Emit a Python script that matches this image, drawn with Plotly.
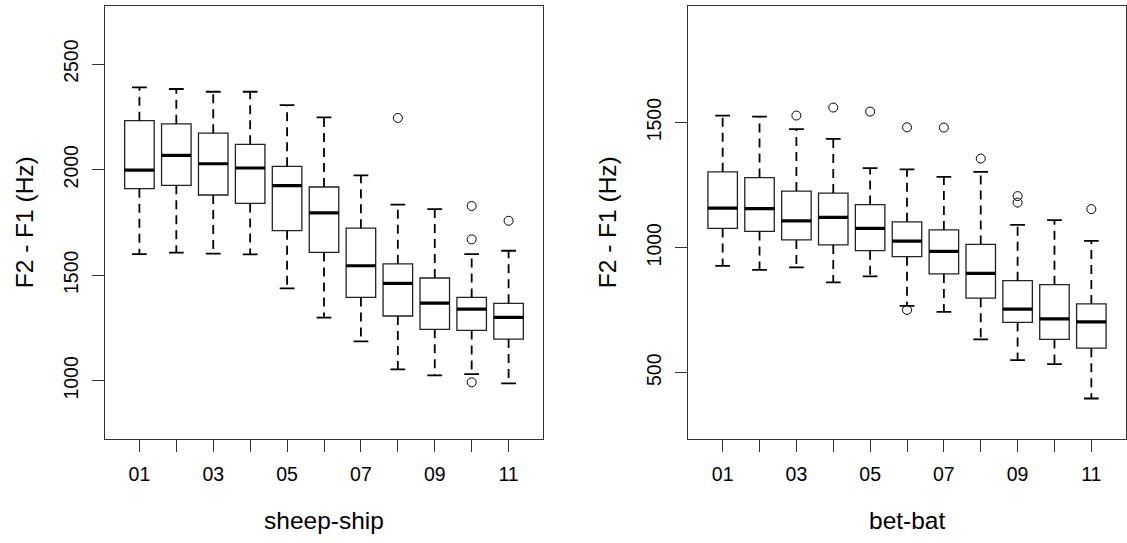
import plotly.graph_objects as go

# ---- data ----
positions = [1, 2, 3, 4, 5, 6, 7, 8, 9, 10, 11]
tick_labels = ["01", "", "03", "", "05", "", "07", "", "09", "", "11"]

# sheep-ship
ss_lower = [1600, 1607, 1602, 1599, 1438, 1299, 1187, 1054, 1026, 1032, 988]
ss_q1 = [1910, 1926, 1880, 1840, 1711, 1608, 1395, 1307, 1244, 1239, 1198]
ss_median = [1998, 2068, 2028, 2008, 1924, 1795, 1545, 1462, 1368, 1340, 1301]
ss_q3 = [2232, 2217, 2173, 2120, 2016, 1918, 1723, 1554, 1487, 1395, 1367]
ss_upper = [2390, 2382, 2369, 2369, 2306, 2248, 1973, 1834, 1813, 1600, 1616]
ss_out_x = [8, 10, 10, 10, 11]
ss_out_y = [2245, 1828, 1670, 993, 1758]

# bet-bat
bb_lower = [927, 911, 921, 861, 885, 767, 743, 633, 550, 534, 397]
bb_q1 = [1077, 1065, 1031, 1011, 988, 964, 895, 798, 701, 633, 598]
bb_median = [1158, 1156, 1107, 1121, 1077, 1026, 985, 897, 754, 715, 703]
bb_q3 = [1303, 1280, 1226, 1218, 1172, 1103, 1071, 1013, 868, 852, 775]
bb_upper = [1528, 1524, 1474, 1435, 1318, 1313, 1283, 1303, 1091, 1110, 1027]
bb_out_x = [3, 4, 5, 6, 6, 7, 8, 9, 9, 11]
bb_out_y = [1528, 1560, 1544, 1481, 751, 1480, 1356, 1206, 1180, 1154]

ss_yticks = [1000, 1500, 2000, 2500]
bb_yticks = [500, 1000, 1500]

BOX_W = 0.8
CAP_HALF = 0.2
FONT = "Liberation Sans, Arial, Helvetica, sans-serif"

fig = go.Figure()


def add_panel(xa, ya, lower, q1, med, q3, upper, ox, oy):
    # whiskers (dashed)
    wx, wy = [], []
    for p, lo, a, b, up in zip(positions, lower, q1, q3, upper):
        wx += [p, p, None, p, p, None]
        wy += [b, up, None, a, lo, None]
    fig.add_trace(go.Scatter(x=wx, y=wy, mode="lines", xaxis=xa, yaxis=ya,
                             line=dict(color="black", width=1.8, dash="9px,6px"),
                             hoverinfo="skip", showlegend=False))
    # staples
    cx, cy = [], []
    for p, lo, up in zip(positions, lower, upper):
        cx += [p - CAP_HALF, p + CAP_HALF, None, p - CAP_HALF, p + CAP_HALF, None]
        cy += [up, up, None, lo, lo, None]
    fig.add_trace(go.Scatter(x=cx, y=cy, mode="lines", xaxis=xa, yaxis=ya,
                             line=dict(color="black", width=1.8),
                             hoverinfo="skip", showlegend=False))
    # box bodies
    fig.add_trace(go.Box(x=positions, q1=q1, median=med, q3=q3,
                         lowerfence=q1, upperfence=q3, xaxis=xa, yaxis=ya,
                         width=BOX_W, whiskerwidth=0,
                         fillcolor="white", line=dict(color="#222222", width=1.3),
                         boxpoints=False, hoverinfo="skip", showlegend=False))
    # thick medians
    mx, my = [], []
    for p, m in zip(positions, med):
        mx += [p - BOX_W / 2, p + BOX_W / 2, None]
        my += [m, m, None]
    fig.add_trace(go.Scatter(x=mx, y=my, mode="lines", xaxis=xa, yaxis=ya,
                             line=dict(color="black", width=3.2),
                             hoverinfo="skip", showlegend=False))
    # outliers
    fig.add_trace(go.Scatter(x=ox, y=oy, mode="markers", xaxis=xa, yaxis=ya,
                             marker=dict(symbol="circle-open", size=9,
                                         color="black", line=dict(width=1)),
                             hoverinfo="skip", showlegend=False))


add_panel("x", "y", ss_lower, ss_q1, ss_median, ss_q3, ss_upper, ss_out_x, ss_out_y)
add_panel("x2", "y2", bb_lower, bb_q1, bb_median, bb_q3, bb_upper, bb_out_x, bb_out_y)

W, H = 1127, 543
ydom = [1 - 438.5 / H, 1 - 6 / H]
xdom1 = [104.7 / W, 543.3 / W]
xdom2 = [688.0 / W, 1126.0 / W]

axis_common = dict(showgrid=False, zeroline=False, showline=True, mirror=True,
                   linecolor="#333333", linewidth=1, ticks="outside",
                   ticklen=12, tickwidth=1, tickcolor="#333333",
                   tickfont=dict(family=FONT, size=19.5, color="black"))

xcommon = dict(axis_common, range=[0.06, 11.94], tickmode="array",
               tickvals=positions, ticktext=tick_labels, ticklabelstandoff=6)

fig.update_layout(
    width=W, height=H, margin=dict(l=0, r=0, t=0, b=0),
    paper_bgcolor="white", plot_bgcolor="white", showlegend=False,
    xaxis=dict(xcommon, domain=xdom1, anchor="y"),
    xaxis2=dict(xcommon, domain=xdom2, anchor="y2"),
    yaxis=dict(axis_common, domain=ydom, range=[727, 2775], anchor="x",
               tickmode="array", tickvals=ss_yticks, tickangle=-90,
               ticklabelstandoff=6),
    yaxis2=dict(axis_common, domain=ydom, range=[237, 1966], anchor="x2",
                tickmode="array", tickvals=bb_yticks, tickangle=-90,
                ticklabelstandoff=6),
)

title_font = dict(family=FONT, size=24.5, color="black")
# x titles
fig.add_annotation(text="sheep-ship", xref="paper", yref="paper",
                   x=(xdom1[0] + xdom1[1]) / 2, y=1 - 520 / H,
                   showarrow=False, font=title_font, xanchor="center", yanchor="middle")
fig.add_annotation(text="bet-bat", xref="paper", yref="paper",
                   x=(xdom2[0] + xdom2[1]) / 2, y=1 - 520 / H,
                   showarrow=False, font=title_font, xanchor="center", yanchor="middle")
# y titles
ymid = (ydom[0] + ydom[1]) / 2
fig.add_annotation(text="F2 - F1 (Hz)", xref="paper", yref="paper",
                   x=24 / W, y=ymid, textangle=-90,
                   showarrow=False, font=title_font, xanchor="center", yanchor="middle")
fig.add_annotation(text="F2 - F1 (Hz)", xref="paper", yref="paper",
                   x=607 / W, y=ymid, textangle=-90,
                   showarrow=False, font=title_font, xanchor="center", yanchor="middle")

fig.write_html("out.html", config={"displayModeBar": False},
               post_script="document.body.style.margin='0';document.body.style.overflow='hidden';")
